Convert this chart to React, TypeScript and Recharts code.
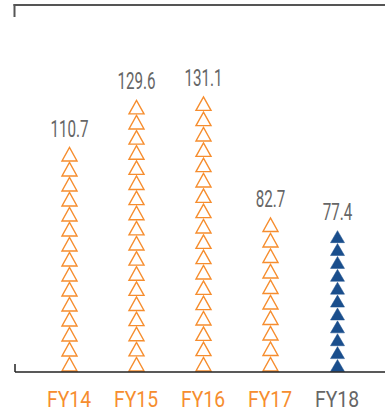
import React from 'react';
import { BarChart, Bar, XAxis, YAxis, LabelList } from 'recharts';

const years = ['FY14', 'FY15', 'FY16', 'FY17', 'FY18'];
const revenue = [110.7, 129.6, 131.1, 82.7, 77.4];
const highlightYear = 'FY18';

const ORANGE = '#f68d2e';
const BLUE = '#1a4e8c';
const GREY = '#666666';
const FONT = 'Roboto, "DejaVu Sans Condensed", sans-serif';

const data = years.map((year, i) => ({ year, value: revenue[i], current: year === highlightYear }));

// stack of triangle icons filling the bar's box from the baseline up
const TriangleStack = (props: any) => {
  const { x, y, width, height, payload } = props;
  if (!height || height <= 0) return null;
  const filled = payload.current;
  const pitch = filled ? 12.8 : 15;
  const w = filled ? 14 : 15;
  const h = filled ? 12 : 13.5;
  const n = Math.max(1, Math.round(height / pitch));
  const step = height / n;
  const cx = x + width / 2;
  const base = y + height;
  const tris = [];
  for (let i = 0; i < n; i++) {
    const b = base - i * step - (filled ? 0.5 : 1);
    const pts = `${cx - w / 2},${b} ${cx + w / 2},${b} ${cx},${b - h}`;
    tris.push(
      <polygon
        key={i}
        points={pts}
        fill={filled ? BLUE : '#fff'}
        stroke={filled ? BLUE : ORANGE}
        strokeWidth={filled ? 0.5 : 1.4}
      />
    );
  }
  return <g>{tris}</g>;
};

// condensed look: Roboto squeezed horizontally
const ValueLabel = (props: any) => {
  const { x, y, width, value } = props;
  const cx = x + width / 2;
  return (
    <text
      transform={`translate(${cx},${y - 10.5}) scale(0.66,1)`}
      textAnchor="middle"
      fill={GREY}
      fontSize={23}
      fontFamily={FONT}
    >
      {value}
    </text>
  );
};

const YearTick = (props: any) => {
  const { x, y, payload } = props;
  const color = payload.value === highlightYear ? GREY : ORANGE;
  return (
    <text
      transform={`translate(${x},${y + 34.7}) scale(0.86,1)`}
      textAnchor="middle"
      fill={color}
      fontSize={22.5}
      fontFamily={FONT}
    >
      {payload.value}
    </text>
  );
};

export default function App() {
  return (
    <div style={{ position: 'absolute', left: 0, top: 0, width: 385, height: 414, background: '#fff' }}>
      <BarChart width={385} height={414} data={data} margin={{ top: 5, right: 0, left: 15, bottom: 0 }} barSize={16}>
        <YAxis hide domain={[20.7, 167.5]} allowDataOverflow />
        <XAxis
          dataKey="year"
          height={42}
          padding={{ left: 20.5, right: 14.5 }}
          tickSize={0}
          tickMargin={0}
          tickLine={false}
          axisLine={{ stroke: '#222', strokeWidth: 1.5 }}
          tick={<YearTick />}
          interval={0}
        />
        <Bar dataKey="value" shape={<TriangleStack />} isAnimationActive={false}>
          <LabelList dataKey="value" content={<ValueLabel />} />
        </Bar>
      </BarChart>
      <svg width={385} height={414} style={{ position: 'absolute', left: 0, top: 0, pointerEvents: 'none' }}>
        <line x1={13.5} y1={5} x2={385} y2={5} stroke="#555" strokeWidth={2} />
        <line x1={14.5} y1={4} x2={14.5} y2={17} stroke="#555" strokeWidth={2} />
        <line x1={15} y1={364} x2={15} y2={372} stroke="#222" strokeWidth={1.5} />
      </svg>
    </div>
  );
}
